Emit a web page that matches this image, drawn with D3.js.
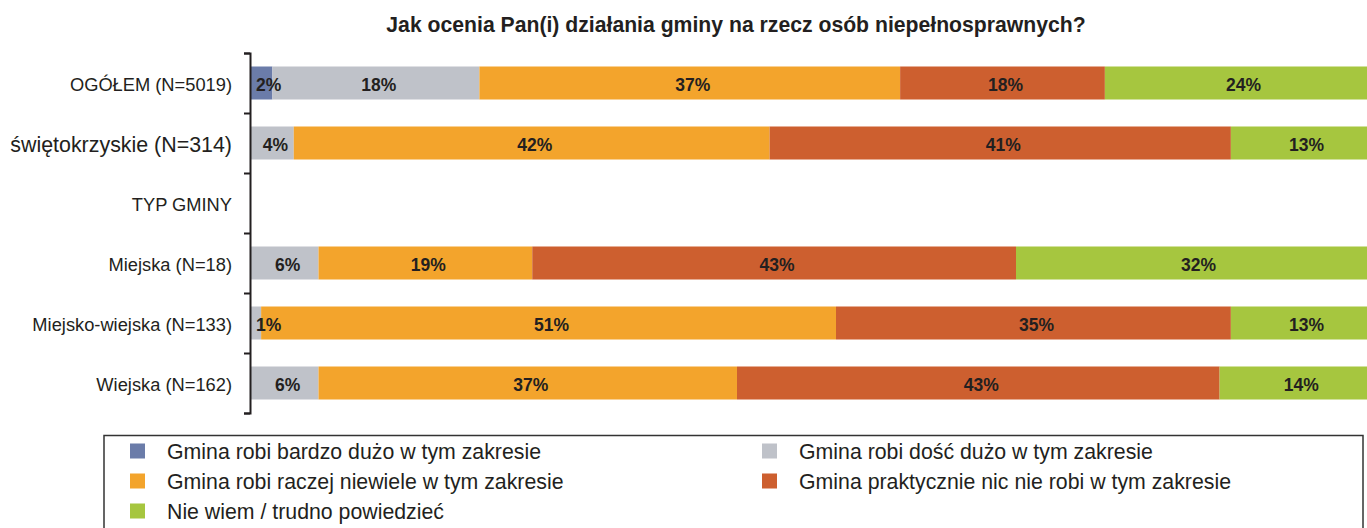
<!DOCTYPE html>
<html>
<head>
<meta charset="utf-8">
<script src="https://cdn.jsdelivr.net/npm/d3@7"></script>
<style>
  body { margin: 0; background: #fff; }
  svg text { font-family: "Liberation Sans", Arial, sans-serif; }
</style>
</head>
<body>
<div id="chart"></div>
<script>
// data (percent of answers per group)
const title = "Jak ocenia Pan(i) działania gminy na rzecz osób niepełnosprawnych?";
const categories = ["OGÓŁEM (N=5019)", "świętokrzyskie (N=314)", "TYP GMINY", "Miejska (N=18)", "Miejsko-wiejska (N=133)", "Wiejska (N=162)"];
const seriesNames = [
  "Gmina robi bardzo dużo w tym zakresie",
  "Gmina robi dość dużo w tym zakresie",
  "Gmina robi raczej niewiele w tym zakresie",
  "Gmina praktycznie nic nie robi w tym zakresie",
  "Nie wiem / trudno powiedzieć"
];
const bardzoDuzo = [1.9, 0, null, 0, 0, 0];
const dosycDuzo = [18.4, 3.8, null, 6.0, 0.9, 6.0];
const raczejNiewiele = [37.4, 42.3, null, 19.0, 51.1, 37.2];
const nicNieRobi = [18.2, 41.0, null, 43.0, 35.1, 42.9];
const nieWiem = [24.1, 12.9, null, 31.9, 12.9, 14.0];
const colors = ["#6b7ca9", "#bfc2c9", "#f3a42c", "#cd5f2f", "#a6c63f"];

const width = 1367, height = 528;
const plotLeft = 251, plotRight = 1376, plotTop = 53, plotBottom = 413;

const svg = d3.select("#chart").append("svg")
  .attr("width", width)
  .attr("height", height);

svg.append("text")
  .attr("x", 736)
  .attr("y", 32)
  .attr("text-anchor", "middle")
  .attr("font-size", "21.2px")
  .attr("font-weight", "bold")
  .attr("fill", "#231f20")
  .text(title);

const x = d3.scaleLinear().domain([0, 100]).range([plotLeft, plotRight]);
const y = d3.scaleBand().domain(categories).range([plotTop, plotBottom])
  .paddingInner(0.45).paddingOuter(0.225);

// build stacked rows
const seriesValues = [bardzoDuzo, dosycDuzo, raczejNiewiele, nicNieRobi, nieWiem];
const rows = categories.map((c, i) => {
  let acc = 0;
  return seriesValues.map((vals, s) => {
    const v = vals[i];
    const seg = { cat: c, series: s, value: v, x0: acc, x1: acc + (v || 0) };
    acc += v || 0;
    return seg;
  }).filter(d => d.value);
});
const segments = rows.flat();

const barLayer = svg.append("g").attr("class", "bars");
barLayer.selectAll("rect")
  .data(segments)
  .enter()
  .append("rect")
  .attr("x", d => x(d.x0))
  .attr("y", d => y(d.cat))
  .attr("width", d => x(d.x1) - x(d.x0))
  .attr("height", y.bandwidth())
  .attr("fill", d => colors[d.series]);

// value labels, nudged right a bit when the segment is tiny
const labelLayer = svg.append("g").attr("class", "labels");
labelLayer.selectAll("text")
  .data(segments)
  .enter()
  .append("text")
  .attr("y", d => y(d.cat) + y.bandwidth() / 2)
  .attr("dy", "0.45em")
  .attr("text-anchor", "middle")
  .attr("font-size", "17.5px")
  .attr("font-weight", "bold")
  .attr("fill", "#231f20")
  .text(d => Math.round(d.value) + "%")
  .attr("x", function (d) {
    const tw = this.getComputedTextLength();
    const center = (x(d.x0) + x(d.x1)) / 2 + 3;
    return Math.max(center, x(d.x0) + tw / 2 + 5);
  });

// category axis: ticks sit on the band boundaries
const tickScale = d3.scaleLinear().domain([0, categories.length]).range([plotTop, plotBottom]);
const axis = svg.append("g")
  .attr("transform", `translate(${plotLeft - 1},0)`)
  .call(d3.axisLeft(tickScale).ticks(categories.length).tickSize(6).tickSizeOuter(6).tickFormat(""));
axis.selectAll("path, line").attr("stroke", "#231f20").attr("stroke-width", 2);

svg.append("g").attr("class", "cat-labels")
  .selectAll("text")
  .data(categories)
  .enter()
  .append("text")
  .attr("x", 232)
  .attr("y", d => y(d) + y.bandwidth() / 2)
  .attr("dy", "0.42em")
  .attr("text-anchor", "end")
  .attr("font-size", (d, i) => (i === 1 ? "21.4px" : "18.3px"))
  .attr("fill", "#231f20")
  .text(d => d);

// legend
const legend = svg.append("g").attr("class", "legend");
legend.append("rect")
  .attr("x", 104)
  .attr("y", 435.5)
  .attr("width", 1259)
  .attr("height", 110)
  .attr("fill", "none")
  .attr("stroke", "#333")
  .attr("stroke-width", 1.5);

const legendItem = legend.selectAll(".legend-item")
  .data(seriesNames)
  .enter()
  .append("g")
  .attr("class", "legend-item")
  .attr("transform", (d, i) => `translate(${i % 2 === 0 ? 130 : 762}, ${451 + Math.floor(i / 2) * 30})`);

legendItem.append("rect")
  .attr("x", 0)
  .attr("y", -7.5)
  .attr("width", 15)
  .attr("height", 15)
  .attr("fill", (d, i) => colors[i]);

legendItem.append("text")
  .attr("x", 37)
  .attr("y", 0)
  .attr("dy", "0.36em")
  .attr("font-size", "21.3px")
  .attr("fill", "#231f20")
  .text(d => d);
</script>
</body>
</html>
